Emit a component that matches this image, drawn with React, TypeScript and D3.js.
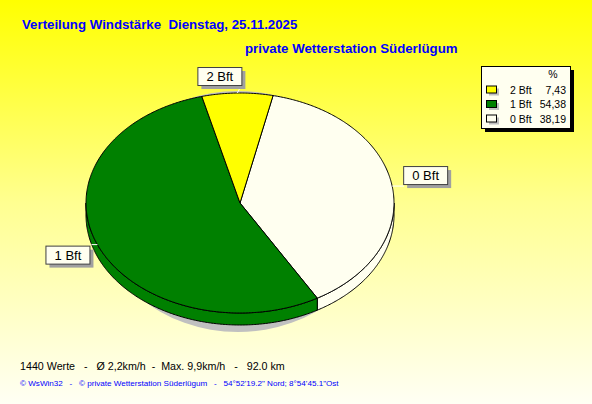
import React from "react";
import * as d3 from "d3";

const W = 592;
const H = 404;

const categories = ["2 Bft", "1 Bft", "0 Bft"];
const percents = [7.43, 54.38, 38.19];
const sliceColors = ["#ffff00", "#008000", "#fffff0"];
const legendValues = ["7,43", "54,38", "38,19"];

const titleText = "Verteilung Windstärke  Dienstag, 25.11.2025";
const subtitleText = "private Wetterstation Süderlügum";
const statsText = "1440 Werte   -   Ø 2,2km/h  -  Max. 9,9km/h   -   92.0 km";
const creditText = "© WsWin32   -   © private Wetterstation Süderlügum   -   54°52'19.2\" Nord; 8°54'45.1\"Ost";

const cx = 240;
const cy = 203;
const rx = 154;
const ry = 110;
const depth = 12;
const startDeg = 12.4;

type Item = { cat: string; value: number; color: string };

function pt(a: number, dy = 0): [number, number] {
  return [cx + rx * Math.sin(a), cy - ry * Math.cos(a) + dy];
}

function arcPts(a0: number, a1: number, dy = 0): [number, number][] {
  const n = Math.max(2, Math.ceil(Math.abs(a1 - a0) / 0.01));
  const res: [number, number][] = [];
  for (let i = 0; i <= n; i++) res.push(pt(a0 + ((a1 - a0) * i) / n, dy));
  return res;
}

const line = d3.line<[number, number]>();

export default function App() {
  const items: Item[] = categories
    .map((c, i) => ({ cat: c, value: percents[i], color: sliceColors[i] }))
    .reverse();
  const s0 = (startDeg * Math.PI) / 180;
  const arcs = d3
    .pie<Item>()
    .sort(null)
    .value((d) => d.value)
    .startAngle(s0)
    .endAngle(s0 + 2 * Math.PI)(items);

  const front0 = Math.PI / 2;
  const front1 = (3 * Math.PI) / 2;

  const sides = arcs
    .map((a) => {
      const lo = Math.max(a.startAngle, front0);
      const hi = Math.min(a.endAngle, front1);
      if (hi <= lo) return null;
      const top = arcPts(lo, hi);
      const bot = arcPts(hi, lo, depth);
      return { d: line([...top, ...bot])! + "Z", color: a.data.color, key: a.data.cat };
    })
    .filter(Boolean) as { d: string; color: string; key: string }[];

  const tops = arcs.map((a) => {
    const p = [[cx, cy] as [number, number], ...arcPts(a.startAngle, a.endAngle)];
    return { d: line(p)! + "Z", color: a.data.color, key: a.data.cat };
  });

  const labels = arcs.map((a) => {
    const mid = (a.startAngle + a.endAngle) / 2;
    const [ax, ay] = pt(mid);
    const s = Math.sin(mid);
    const c = Math.cos(mid);
    const bw = 44;
    const bh = 18;
    let bx: number, by: number, lx2: number, ly2: number;
    if (c > 0.8) {
      bx = ax - 40;
      by = ay - 26;
      lx2 = ax + 2;
      ly2 = ay - 4;
    } else if (s > 0) {
      bx = ax + 11;
      by = ay - 20;
      lx2 = ax + 12;
      ly2 = ay;
    } else {
      bx = ax - 52;
      by = ay + 1;
      lx2 = ax - 6;
      ly2 = ay;
    }
    return { key: a.data.cat, ax, ay, bx, by, bw, bh, lx2, ly2, text: a.data.cat };
  });

  const legendX = 481;
  const legendY = 66;
  const rowY = d3.scalePoint<string>().domain(categories).range([89.5, 118.5]);

  return (
    <svg
      width={W}
      height={H}
      style={{ position: "absolute", left: 0, top: 0 }}
      fontFamily="'Liberation Sans', Arial, sans-serif"
    >
      <defs>
        <linearGradient id="bg" x1="0" y1="0" x2="0" y2="1">
          <stop offset="0" stopColor="#ffff00" />
          <stop offset="0.5" stopColor="#ffff90" />
          <stop offset="1" stopColor="#fffff4" />
        </linearGradient>
      </defs>
      <rect x={0} y={0} width={W} height={H} fill="url(#bg)" />

      <text x={22} y={29} fill="#0000ff" fontWeight="bold" fontSize={13.25} style={{ whiteSpace: "pre" }}>
        {titleText}
      </text>
      <text x={245} y={53} fill="#0000ff" fontWeight="bold" fontSize={13.25}>
        {subtitleText}
      </text>

      <ellipse cx={cx - 2} cy={cy + 8.5} rx={140} ry={120.5} fill="#c0c0c0" />

      {sides.map((s) => (
        <path key={"s" + s.key} d={s.d} fill={s.color} stroke="#000" strokeWidth={1} />
      ))}
      {tops.map((t) => (
        <path key={"t" + t.key} d={t.d} fill={t.color} stroke="#000" strokeWidth={1} strokeLinejoin="round" />
      ))}

      {labels.map((l) => (
        <g key={"l" + l.key}>
          <line x1={l.ax} y1={l.ay} x2={l.lx2} y2={l.ly2} stroke="#ffffff" strokeWidth={1} />
          <rect x={l.bx + 4} y={l.by + 4} width={l.bw} height={l.bh} fill="#a0a0a0" />
          <rect x={l.bx + 0.5} y={l.by + 0.5} width={l.bw} height={l.bh} fill="#fffff0" stroke="#404040" strokeWidth={1} />
          <text x={l.bx + l.bw / 2 + 0.5} y={l.by + l.bh / 2 + 5} textAnchor="middle" fontSize={13} fill="#000">
            {l.text}
          </text>
        </g>
      ))}

      <rect x={legendX + 4} y={legendY + 4} width={89} height={62} fill="#000" />
      <rect x={legendX + 0.5} y={legendY + 0.5} width={89} height={62} fill="#fffff0" stroke="#000" />
      <text x={553} y={78} textAnchor="middle" fontSize={10.5} fill="#000">%</text>
      {categories.map((c, i) => {
        const y = rowY(c)!;
        return (
          <g key={"lg" + c}>
            <rect x={489} y={y - 1} width={10} height={7} fill="#c0c0c0" />
            <rect x={486.5} y={y - 3.5} width={10} height={7} fill={sliceColors[i]} stroke="#000" />
            <text x={510} y={y + 4} fontSize={10.5} fill="#000">{c}</text>
            <text x={566} y={y + 4} fontSize={10.5} fill="#000" textAnchor="end">{legendValues[i]}</text>
          </g>
        );
      })}

      <text x={20} y={370} fontSize={10.7} fill="#000" style={{ whiteSpace: "pre" }}>
        {statsText}
      </text>
      <text x={20} y={386} fontSize={8.1} fill="#0000ff" style={{ whiteSpace: "pre" }}>
        {creditText}
      </text>
    </svg>
  );
}
